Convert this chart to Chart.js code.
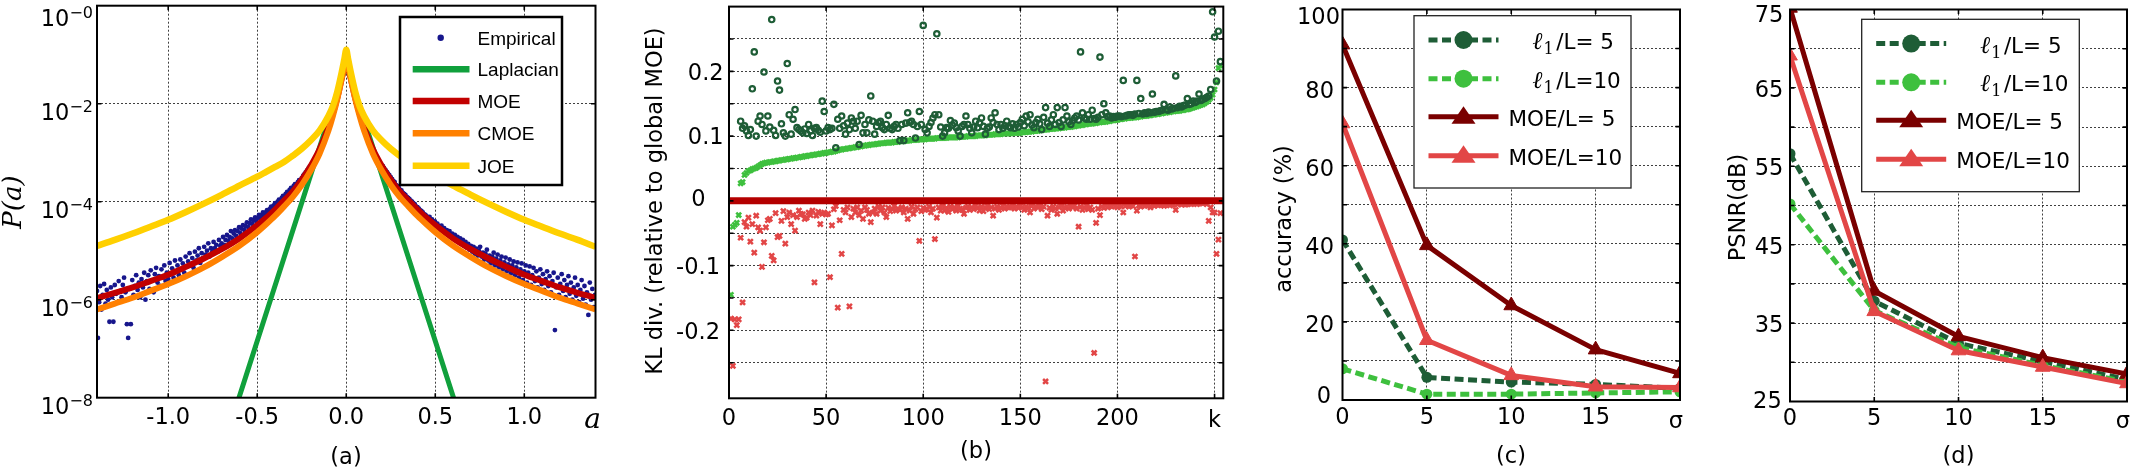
<!DOCTYPE html>
<html>
<head>
<meta charset="utf-8">
<title>MOE figure</title>
<script src="https://cdn.jsdelivr.net/npm/chart.js@4.4.1/dist/chart.umd.min.js"></script>
<style>
  html, body { margin:0; padding:0; background:#ffffff; }
  #fig { position:relative; width:2141px; height:468px; overflow:hidden; background:#ffffff; }
  #fig canvas { position:absolute; left:0; top:0; }
</style>
</head>
<body>
<div id="fig">
  <canvas id="chartA" width="2141" height="468"></canvas>
  <canvas id="chartB" width="2141" height="468"></canvas>
  <canvas id="chartC" width="2141" height="468"></canvas>
  <canvas id="chartD" width="2141" height="468"></canvas>
</div>
<script>
// ======================= DATA =======================
// ---- Panel (a): densities, values are log10 P(a) ----
const aCurveX = [-1.4,-1.3,-1.2,-1.1,-1.0,-0.9,-0.8,-0.7,-0.6,-0.5,-0.45,-0.4,-0.35,-0.3,-0.25,-0.2,-0.15,-0.1,-0.075,-0.05,-0.025,-0.01,
                 0,
                 0.01,0.025,0.05,0.075,0.1,0.15,0.2,0.25,0.3,0.35,0.4,0.45,0.5,0.6,0.7,0.8,0.9,1.0,1.1,1.2,1.3,1.4];
const aMoeLog  = [-5.97,-5.86,-5.75,-5.62,-5.49,-5.33,-5.16,-4.97,-4.75,-4.48,-4.33,-4.16,-3.98,-3.79,-3.55,-3.27,-2.93,-2.48,-2.2,-1.88,-1.48,-1.25,
                  -1.1,
                  -1.25,-1.48,-1.88,-2.2,-2.48,-2.93,-3.27,-3.55,-3.79,-3.98,-4.16,-4.33,-4.48,-4.75,-4.97,-5.16,-5.33,-5.49,-5.62,-5.75,-5.86,-5.96];
const aCmoeLog = [-6.2,-6.08,-5.96,-5.82,-5.68,-5.52,-5.34,-5.13,-4.9,-4.62,-4.46,-4.29,-4.1,-3.9,-3.66,-3.37,-3.02,-2.55,-2.25,-1.9,-1.48,-1.22,
                  -1.05,
                  -1.22,-1.48,-1.9,-2.25,-2.55,-3.02,-3.37,-3.66,-3.9,-4.1,-4.29,-4.46,-4.62,-4.9,-5.13,-5.34,-5.52,-5.68,-5.82,-5.96,-6.08,-6.2];
const aJoeLog  = [-4.9,-4.78,-4.65,-4.51,-4.37,-4.21,-4.04,-3.86,-3.67,-3.49,-3.39,-3.29,-3.19,-3.06,-2.92,-2.75,-2.55,-2.25,-2.05,-1.75,-1.35,-1.08,
                  -0.9,
                  -1.08,-1.35,-1.75,-2.05,-2.25,-2.55,-2.75,-2.92,-3.06,-3.19,-3.29,-3.39,-3.49,-3.67,-3.86,-4.04,-4.21,-4.37,-4.51,-4.65,-4.78,-4.92];
const aLapX   = [-0.7, 0, 0.7];
const aLapLog = [-9.1, -1.2, -9.1];
const aEmpX = [
-1.400,-1.395,-1.388,-1.382,-1.375,-1.368,-1.360,-1.352,-1.345,-1.338,
-1.330,-1.322,-1.315,-1.308,-1.300,-1.292,-1.285,-1.278,-1.270,-1.262,
-1.255,-1.248,-1.240,-1.232,-1.225,-1.218,-1.210,-1.202,-1.195,-1.188,
-1.180,-1.172,-1.165,-1.158,-1.150,-1.142,-1.135,-1.128,-1.120,-1.112,
-1.105,-1.098,-1.090,-1.082,-1.075,-1.068,-1.060,-1.052,-1.045,-1.038,
-1.030,-1.022,-1.015,-1.008,-1.000,-0.992,-0.985,-0.978,-0.970,-0.962,
-0.955,-0.948,-0.940,-0.932,-0.925,-0.918,-0.910,-0.902,-0.895,-0.888,
-0.880,-0.872,-0.865,-0.858,-0.850,-0.842,-0.835,-0.828,-0.820,-0.812,
-0.805,-0.798,-0.790,-0.782,-0.775,-0.768,-0.760,-0.752,-0.745,-0.738,
-0.730,-0.722,-0.715,-0.708,-0.700,-0.692,-0.685,-0.678,-0.670,-0.662,
-0.655,-0.648,-0.640,-0.632,-0.625,-0.618,-0.610,-0.602,-0.595,-0.588,
-0.580,-0.572,-0.565,-0.558,-0.550,-0.542,-0.535,-0.528,-0.520,-0.512,
-0.505,-0.498,-0.490,-0.482,-0.475,-0.468,-0.460,-0.452,-0.445,-0.438,
-0.430,-0.422,-0.415,-0.408,-0.400,-0.392,-0.385,-0.378,-0.370,-0.362,
-0.355,-0.348,-0.340,-0.332,-0.325,-0.318,-0.310,-0.302,-0.295,-0.288,
-0.280,-0.272,-0.265,-0.258,-0.250,-0.242,-0.235,-0.228,-0.220,-0.212,
-0.205,
0.205,0.212,0.220,0.228,0.235,0.242,0.250,0.258,0.265,0.272,
0.280,0.288,0.295,0.302,0.310,0.318,0.325,0.332,0.340,0.348,
0.355,0.362,0.370,0.378,0.385,0.392,0.400,0.408,0.415,0.422,
0.430,0.438,0.445,0.452,0.460,0.468,0.475,0.482,0.490,0.498,
0.505,0.512,0.520,0.528,0.535,0.542,0.550,0.558,0.565,0.572,
0.580,0.588,0.595,0.602,0.610,0.618,0.625,0.632,0.640,0.648,
0.655,0.662,0.670,0.678,0.685,0.692,0.700,0.708,0.715,0.722,
0.730,0.738,0.745,0.752,0.760,0.768,0.775,0.782,0.790,0.798,
0.805,0.812,0.820,0.828,0.835,0.842,0.850,0.858,0.865,0.872,
0.880,0.888,0.895,0.902,0.910,0.918,0.925,0.932,0.940,0.948,
0.955,0.962,0.970,0.978,0.985,0.992,1.000,1.008,1.015,1.022,
1.030,1.038,1.045,1.052,1.060,1.068,1.075,1.082,1.090,1.098,
1.105,1.112,1.120,1.128,1.135,1.142,1.150,1.158,1.165,1.172,
1.180,1.188,1.195,1.202,1.210,1.218,1.225,1.232,1.240,1.248,
1.255,1.262,1.270,1.278,1.285,1.292,1.300,1.308,1.315,1.322,
1.330,1.338,1.345,1.352,1.360,1.368,1.375,1.382,1.390,1.398];
const aEmpLog = [
-5.82,-6.78,-6.05,-5.72,-6.2,-5.9,-5.68,-6.08,-5.8,-6.0,
-6.45,-5.75,-5.95,-6.45,-5.7,-5.88,-6.05,-5.62,-5.82,-5.95,
-5.7,-5.55,-5.85,-6.5,-6.78,-5.78,-6.5,-5.6,-5.9,-5.72,
-5.5,-5.8,-5.65,-5.95,-5.58,-5.75,-5.45,-6.0,-5.62,-5.5,
-5.78,-5.4,-5.6,-5.85,-5.48,-5.35,-5.65,-5.52,-5.72,-5.38,
-5.55,-5.3,-5.62,-5.45,-5.58,-5.25,-5.48,-5.36,-5.55,-5.2,
-5.42,-5.3,-5.5,-5.18,-5.38,-5.26,-5.45,-5.12,-5.32,-5.22,
-5.05,-5.3,-5.15,-5.35,-5.02,-5.2,-5.1,-4.95,-5.25,-5.05,
-5.15,-4.92,-5.08,-5.0,-4.85,-5.12,-4.95,-5.02,-4.82,-4.95,
-4.88,-5.02,-4.78,-4.9,-4.85,-4.72,-4.88,-4.78,-4.68,-4.8,
-4.72,-4.6,-4.75,-4.65,-4.58,-4.7,-4.6,-4.52,-4.64,-4.55,
-4.48,-4.58,-4.5,-4.42,-4.52,-4.44,-4.36,-4.45,-4.38,-4.32,
-4.4,-4.33,-4.27,-4.35,-4.28,-4.22,-4.28,-4.22,-4.17,-4.22,
-4.15,-4.1,-4.14,-4.08,-4.03,-4.06,-4.0,-3.96,-3.98,-3.92,
-3.88,-3.9,-3.84,-3.8,-3.82,-3.76,-3.72,-3.74,-3.68,-3.64,
-3.65,-3.6,-3.56,-3.57,-3.52,-3.47,-3.44,-3.4,-3.36,-3.32,
-3.28,
-3.27,-3.31,-3.35,-3.39,-3.43,-3.46,-3.5,-3.54,-3.58,-3.6,
-3.66,-3.68,-3.71,-3.76,-3.77,-3.82,-3.84,-3.86,-3.9,-3.92,
-3.95,-3.98,-4.0,-4.04,-4.05,-4.1,-4.11,-4.14,-4.18,-4.19,
-4.22,-4.26,-4.27,-4.3,-4.33,-4.31,-4.38,-4.36,-4.42,-4.4,
-4.47,-4.45,-4.5,-4.53,-4.49,-4.58,-4.54,-4.62,-4.58,-4.66,
-4.6,-4.7,-4.65,-4.74,-4.68,-4.78,-4.72,-4.82,-4.75,-4.86,
-4.78,-4.9,-4.82,-4.94,-4.86,-4.98,-4.9,-5.02,-4.92,-5.06,
-4.96,-5.1,-5.0,-4.92,-5.12,-5.04,-5.18,-5.06,-4.98,-5.2,
-5.1,-5.26,-5.12,-5.04,-5.3,-5.16,-5.08,-5.34,-5.2,-5.12,
-5.38,-5.24,-5.14,-5.42,-5.28,-5.18,-5.46,-5.3,-5.22,-5.5,
-5.34,-5.24,-5.55,-5.38,-5.26,-5.6,-5.42,-5.3,-5.65,-5.45,
-5.32,-5.7,-5.5,-5.35,-5.62,-5.42,-5.75,-5.55,-5.38,-5.68,
-5.48,-5.8,-5.58,-5.42,-5.72,-5.52,-5.85,-5.62,-5.45,-6.62,
-5.75,-5.55,-5.9,-5.68,-5.48,-5.82,-5.6,-5.95,-5.7,-5.52,
-5.88,-5.65,-6.0,-5.75,-5.55,-5.92,-5.7,-6.05,-5.8,-5.6,
-5.98,-5.72,-6.1,-5.85,-6.31,-5.65,-6.0,-5.78,-6.15,-5.9];
const aXTicks = [-1.0, -0.5, 0.0, 0.5, 1.0];
const aXTickLabels = ['-1.0', '-0.5', '0.0', '0.5', '1.0'];
const aYTicks = [1, 1e-2, 1e-4, 1e-6, 1e-8];
const aYTickExp = ['\u22120', '\u22122', '\u22124', '\u22126', '\u22128'];
const aLegendNames = ['Empirical', 'Laplacian', 'MOE', 'CMOE', 'JOE'];

// ---- Panel (b): KL divergence relative to global MOE, k = 1..253 ----
const bLightGreen = [
-0.145,-0.040,-0.037,-0.034,-0.022,0.027,0.029,0.040,0.043,0.046,
0.047,0.049,0.050,0.051,0.053,0.055,0.057,0.058,0.059,0.059,
0.060,0.060,0.061,0.061,0.062,0.062,0.063,0.063,0.064,0.064,
0.065,0.065,0.066,0.066,0.067,0.067,0.068,0.068,0.069,0.069,
0.070,0.070,0.071,0.071,0.072,0.072,0.073,0.073,0.074,0.074,
0.075,0.075,0.076,0.076,0.077,0.078,0.079,0.079,0.080,0.080,
0.081,0.081,0.082,0.082,0.083,0.083,0.084,0.084,0.085,0.085,
0.086,0.086,0.087,0.087,0.087,0.088,0.088,0.089,0.089,0.089,
0.090,0.090,0.090,0.090,0.091,0.091,0.091,0.092,0.092,0.092,
0.093,0.093,0.093,0.094,0.094,0.094,0.094,0.095,0.095,0.095,
0.095,0.096,0.096,0.096,0.096,0.096,0.097,0.097,0.097,0.097,
0.097,0.097,0.098,0.098,0.098,0.098,0.098,0.098,0.099,0.099,
0.099,0.099,0.100,0.100,0.100,0.100,0.100,0.101,0.101,0.101,
0.101,0.101,0.102,0.102,0.102,0.102,0.103,0.103,0.103,0.103,
0.104,0.104,0.104,0.104,0.104,0.105,0.105,0.105,0.105,0.105,
0.106,0.106,0.106,0.107,0.107,0.107,0.108,0.108,0.108,0.109,
0.109,0.110,0.110,0.110,0.111,0.111,0.111,0.112,0.112,0.112,
0.113,0.113,0.113,0.114,0.114,0.114,0.115,0.115,0.116,0.116,
0.117,0.117,0.118,0.118,0.119,0.119,0.119,0.120,0.120,0.121,
0.121,0.122,0.122,0.122,0.123,0.123,0.124,0.124,0.125,0.125,
0.126,0.126,0.127,0.127,0.128,0.128,0.128,0.129,0.129,0.129,
0.130,0.130,0.131,0.131,0.131,0.132,0.132,0.133,0.133,0.134,
0.134,0.135,0.135,0.136,0.136,0.137,0.137,0.138,0.138,0.139,
0.139,0.139,0.140,0.140,0.141,0.141,0.142,0.143,0.144,0.145,
0.146,0.147,0.148,0.149,0.151,0.153,0.156,0.159,0.164,0.172,
0.183,0.205,0.209];
const bDarkGreen = [
null,null,null,null,null,0.123,0.112,0.116,0.108,0.101,
0.110,0.173,0.230,0.100,0.123,0.131,0.118,0.199,0.108,0.131,
0.114,0.280,0.109,0.101,0.185,0.171,0.119,0.105,0.100,0.212,
0.133,0.103,0.126,0.141,0.113,0.110,0.108,0.105,0.111,0.104,
0.118,0.108,0.101,0.112,0.113,0.109,0.106,0.154,0.138,0.108,
0.113,0.110,0.112,0.149,0.082,0.126,0.112,0.131,0.116,0.103,
0.120,0.110,0.128,0.123,0.112,0.123,0.087,0.132,0.105,0.118,
0.105,0.125,0.162,0.123,0.103,0.115,0.121,0.123,0.113,0.110,
0.118,0.132,0.112,0.110,0.115,0.118,0.112,0.093,0.118,0.093,
0.120,0.136,0.121,0.123,0.118,0.097,0.115,0.138,0.118,0.271,
0.110,0.105,0.115,0.121,0.128,0.133,0.258,0.133,0.114,0.100,
0.105,0.113,0.112,0.124,0.117,0.120,0.113,0.108,0.100,0.115,
0.118,0.131,0.118,0.112,0.105,0.114,0.123,0.113,0.120,0.128,
0.115,0.103,0.112,0.114,0.128,0.121,0.136,0.118,0.110,0.118,
0.112,0.116,0.123,0.115,0.113,0.119,0.112,0.118,0.114,0.121,
0.126,0.116,0.131,0.122,0.133,0.117,0.113,0.121,0.126,0.119,
0.110,0.129,0.144,0.120,0.115,0.125,0.133,0.118,0.144,0.121,
0.115,0.125,0.144,0.131,0.122,0.118,0.124,0.128,0.131,0.125,
0.230,0.136,0.128,0.126,0.133,0.126,0.140,0.127,0.126,0.129,
0.222,0.133,0.150,0.136,0.130,0.131,0.128,0.130,0.129,0.131,
0.131,0.130,0.186,0.131,0.132,0.133,0.133,0.132,0.134,0.186,
0.135,0.158,0.134,0.136,0.135,0.137,0.136,0.165,0.137,0.138,
0.138,0.139,0.140,0.149,0.141,0.140,0.145,0.142,0.143,0.193,
0.144,0.146,0.145,0.147,0.148,0.158,0.149,0.150,0.154,0.152,
0.154,0.165,0.155,0.157,0.158,0.160,0.162,0.172,0.292,0.253,
0.185,0.262,0.215];
const bLightRed = [
-0.182,-0.255,-0.183,-0.192,-0.183,-0.057,-0.157,-0.033,-0.040,-0.026,
-0.063,-0.036,-0.080,-0.023,-0.041,-0.046,-0.102,-0.064,-0.041,-0.030,
-0.028,-0.085,-0.092,-0.019,-0.056,-0.054,-0.031,-0.016,-0.066,-0.025,
-0.018,-0.036,-0.022,-0.046,-0.025,-0.015,-0.020,-0.021,-0.028,-0.026,
-0.018,-0.022,-0.015,-0.126,-0.023,-0.017,-0.036,-0.020,-0.018,-0.021,
-0.020,-0.118,-0.038,-0.013,-0.008,-0.165,-0.030,-0.082,-0.014,-0.018,
-0.010,-0.163,-0.025,-0.012,-0.018,-0.010,-0.022,-0.015,-0.028,-0.010,
-0.014,-0.020,-0.033,-0.018,-0.012,-0.020,-0.009,-0.015,-0.010,-0.018,
-0.025,-0.011,-0.016,-0.013,-0.008,-0.015,-0.012,-0.014,-0.010,-0.018,
-0.012,-0.028,-0.015,-0.009,-0.020,-0.013,-0.010,-0.062,-0.016,-0.011,
-0.014,-0.013,-0.009,-0.018,-0.012,-0.059,-0.026,-0.010,-0.015,-0.008,
-0.015,-0.011,-0.017,-0.009,-0.013,-0.010,-0.015,-0.008,-0.012,-0.014,
-0.020,-0.011,-0.009,-0.014,-0.010,-0.013,-0.008,-0.011,-0.015,-0.009,
-0.016,-0.011,-0.008,-0.013,-0.010,-0.023,-0.012,-0.009,-0.014,-0.011,
-0.008,-0.012,-0.009,-0.010,-0.010,-0.007,-0.012,-0.009,-0.011,-0.008,
-0.010,-0.014,-0.009,-0.011,-0.018,-0.008,-0.012,-0.009,-0.010,-0.007,
-0.013,-0.009,-0.279,-0.023,-0.011,-0.014,-0.009,-0.012,-0.020,-0.010,
-0.008,-0.015,-0.011,-0.009,-0.012,-0.008,-0.010,-0.007,-0.012,-0.040,
-0.009,-0.014,-0.011,-0.008,-0.013,-0.010,-0.014,-0.235,-0.034,-0.012,
-0.022,-0.009,-0.011,-0.007,-0.010,-0.008,-0.009,-0.006,-0.008,-0.010,
-0.007,-0.009,-0.018,-0.008,-0.006,-0.009,-0.007,-0.008,-0.086,-0.015,
-0.007,-0.009,-0.006,-0.008,-0.007,-0.005,-0.010,-0.006,-0.008,-0.005,
-0.007,-0.006,-0.005,-0.008,-0.006,-0.005,-0.007,-0.005,-0.006,-0.014,
-0.005,-0.004,-0.006,-0.004,-0.006,-0.005,-0.004,-0.005,-0.004,-0.003,
-0.005,-0.004,-0.003,-0.004,-0.003,-0.005,-0.031,-0.010,-0.018,-0.018,
-0.082,-0.060,-0.019];
const bGlobalK  = [0, 254.5];
const bGlobalKL = [0, 0];
const bXTicks = [0, 50, 100, 150, 200, 250];
const bXTickLabels = ['0', '50', '100', '150', '200', 'k'];
const bYTicks = [0.2, 0.1, 0, -0.1, -0.2];
const bYTickLabels = ['0.2', '0.1', '0', '-0.1', '-0.2'];

// ---- Panels (c) and (d): vs noise sigma ----
const sigma = [0, 5, 10, 15, 20];
const cAccL1L5   = [41.0, 5.8, 4.6, 4.0, 3.0];
const cAccL1L10  = [8.0, 1.5, 1.5, 1.8, 2.1];
const cAccMoeL5  = [91.0, 39.6, 24.2, 12.9, 6.8];
const cAccMoeL10 = [70.8, 15.3, 6.3, 3.4, 3.2];
const dPsnrL1L5   = [56.6, 37.8, 32.4, 30.1, 27.8];
const dPsnrL1L10  = [50.2, 36.6, 31.9, 29.6, 27.5];
const dPsnrMoeL5  = [75.2, 39.1, 33.3, 30.6, 28.5];
const dPsnrMoeL10 = [69.1, 36.5, 31.5, 29.4, 27.3];
const sigmaTickLabels = ['0', '5', '10', '15', '\u03c3'];
const cYTicks = [0, 20, 40, 60, 80, 100];
const dYTicks = [25, 35, 45, 55, 65, 75];
const methodNames = [['\u2113', '1', '/L= 5'], ['\u2113', '1', '/L=10'], ['MOE/L= 5'], ['MOE/L=10']];

// ======================= STYLE =======================
const SANS  = '"DejaVu Sans", "Liberation Sans", sans-serif';
const SERIF = '"DejaVu Serif", "Liberation Serif", serif';
const HELV  = '"Liberation Sans", Arial, sans-serif';
const TICK  = '22.5px ' + SANS;
const GRID  = 'rgba(0,0,0,0.75)';
const A_EMP = '#17168c', A_LAP = '#10a03c', A_MOE = '#c20000', A_CMOE = '#ff8000', A_JOE = '#ffd000';
const C_DG = '#1e5d36', C_LG = '#3ec03e', C_DR = '#7a0000', C_LR = '#e24646', B_DR = '#b40000';

function text(ctx, s, x, y, font, align, base, rot, color) {
  ctx.save();
  ctx.font = font; ctx.fillStyle = color || '#000';
  ctx.textAlign = align || 'center'; ctx.textBaseline = base || 'alphabetic';
  ctx.translate(x, y); if (rot) ctx.rotate(rot);
  ctx.fillText(s, 0, 0);
  ctx.restore();
}
function frame(chart, xMarks, yMarks) {
  const {ctx, chartArea: a, scales: {x, y}} = chart;
  ctx.save();
  ctx.strokeStyle = '#000'; ctx.lineWidth = 1.6;
  ctx.beginPath();
  xMarks.forEach(v => { const p = x.getPixelForValue(v);
    ctx.moveTo(p, a.bottom); ctx.lineTo(p, a.bottom - 4.5); ctx.moveTo(p, a.top); ctx.lineTo(p, a.top + 4.5); });
  yMarks.forEach(v => { const p = y.getPixelForValue(v);
    ctx.moveTo(a.left, p); ctx.lineTo(a.left + 4.5, p); ctx.moveTo(a.right, p); ctx.lineTo(a.right - 4.5, p); });
  ctx.stroke();
  ctx.lineWidth = 2;
  ctx.strokeRect(a.left, a.top, a.right - a.left, a.bottom - a.top);
  ctx.restore();
}
function axis(type, min, max, gridVals) {
  return {
    type, min, max, bounds: 'data',
    ticks: { display: false },
    grid: { color: GRID, lineWidth: 1, drawTicks: false },
    border: { display: false, dash: [2, 2] },
    afterBuildTicks: s => { s.ticks = gridVals.map(v => ({ value: v })); },
    afterFit: s => { if (s.isHorizontal()) s.height = 0; else s.width = 0; }
  };
}
function baseOptions(padding, scales) {
  return {
    responsive: false, animation: false, events: [], devicePixelRatio: 1,
    layout: { padding },
    plugins: { legend: { display: false }, tooltip: { enabled: false } },
    scales
  };
}
const pts = (xs, ys, f) => xs.map((x, i) => ({ x, y: f ? f(ys[i]) : ys[i] })).filter(p => p.y !== null);
const pow10 = v => Math.pow(10, v);

// ======================= PANEL (a) =======================
const decorA = { id: 'decorA', afterDraw(chart) {
  const {ctx, scales: {x, y}} = chart;
  frame(chart, aXTicks, [1e-2, 1e-4, 1e-6]);
  ctx.save();
  ctx.fillStyle = '#fff'; ctx.fillRect(400, 17, 162, 168);
  ctx.lineWidth = 2.5; ctx.strokeStyle = '#000'; ctx.strokeRect(400, 17, 162, 168);
  const rows = [37.7, 69.3, 101, 133.3, 165.7];
  ctx.fillStyle = A_EMP; ctx.beginPath(); ctx.arc(440.7, rows[0], 3.2, 0, 2 * Math.PI); ctx.fill();
  [A_LAP, A_MOE, A_CMOE, A_JOE].forEach((c, i) => {
    ctx.strokeStyle = c; ctx.lineWidth = 6.5; ctx.beginPath();
    ctx.moveTo(412.7, rows[i + 1]); ctx.lineTo(469.5, rows[i + 1]); ctx.stroke(); });
  ctx.restore();
  aLegendNames.forEach((s, i) => text(ctx, s, 477.5, rows[i] + 7, '19px ' + HELV, 'left'));
  aYTicks.forEach((v, i) => {
    const py = y.getPixelForValue(v); const dy = i === 0 ? 4 : 0;
    ctx.save(); ctx.font = '16px ' + SANS; const sw = ctx.measureText(aYTickExp[i]).width; ctx.restore();
    text(ctx, aYTickExp[i], 93, py + 8 + dy, '16px ' + SANS, 'right');
    text(ctx, '10', 93 - sw, py + 16.5 + dy, TICK, 'right');
  });
  aXTicks.forEach((v, i) => text(ctx, aXTickLabels[i], x.getPixelForValue(v), 424, TICK));
  text(ctx, 'a', 592.5, 428, 'italic 28px ' + SERIF);
  text(ctx, 'P(a)', 14, 202, 'italic 26px ' + SERIF, 'center', 'middle', -Math.PI / 2);
  text(ctx, '(a)', 346, 458, TICK, 'center', 'middle');
}};
new Chart(document.getElementById('chartA'), {
  type: 'scatter',
  data: { datasets: [
    { data: pts(aCurveX, aJoeLog, pow10), showLine: true, borderColor: A_JOE, borderWidth: 6.5, pointRadius: 0, cubicInterpolationMode: 'monotone', clip: 0, order: 1 },
    { data: pts(aCurveX, aCmoeLog, pow10), showLine: true, borderColor: A_CMOE, borderWidth: 6, pointRadius: 0, cubicInterpolationMode: 'monotone', clip: 0, order: 2 },
    { data: pts(aCurveX, aMoeLog, pow10), showLine: true, borderColor: A_MOE, borderWidth: 6, pointRadius: 0, cubicInterpolationMode: 'monotone', clip: 0, order: 3 },
    { data: pts(aLapX, aLapLog, pow10), showLine: true, borderColor: A_LAP, borderWidth: 5, pointRadius: 0, clip: 0, order: 4 },
    { data: pts(aEmpX, aEmpLog, pow10), showLine: false, pointRadius: 2.4, pointBorderWidth: 0, pointBackgroundColor: A_EMP, clip: 0, order: 5 }
  ]},
  options: baseOptions({ left: 97, right: 2141 - 595.5, top: 5.7, bottom: 468 - 397.7 }, {
    x: axis('linear', -1.4, 1.4, aXTicks),
    y: axis('logarithmic', 1e-8, 1, [1e-6, 1e-4, 1e-2])
  }),
  plugins: [decorA]
});

// ======================= PANEL (b) =======================
const kIndex = bLightGreen.map((_, i) => i + 1);
const bGrid = [-0.25, -0.2, -0.15, -0.1, -0.05, 0, 0.05, 0.1, 0.15, 0.2, 0.25];
const decorB = { id: 'decorB', afterDraw(chart) {
  const {ctx, scales: {x, y}} = chart;
  frame(chart, [50, 100, 150, 200, 250], bGrid);
  const xr = [723.6, 723.6, 698.5, 720, 720], al = ['right', 'right', 'center', 'right', 'right'];
  bYTicks.forEach((v, i) => { const py = y.getPixelForValue(v);
    text(ctx, bYTickLabels[i], xr[i], py + (v === 0 ? 5 : 8.2), TICK, al[i]); });
  bXTicks.forEach((v, i) => text(ctx, bXTickLabels[i], x.getPixelForValue(v), bXTickLabels[i] === 'k' ? 426.5 : 424.5, TICK));
  text(ctx, 'KL div. (relative to global MOE)', 656, 201, TICK, 'center', 'middle', -Math.PI / 2);
  text(ctx, '(b)', 976, 452, TICK, 'center', 'middle');
}};
new Chart(document.getElementById('chartB'), {
  type: 'scatter',
  data: { datasets: [
    { data: pts(bGlobalK, bGlobalKL), showLine: true, borderColor: B_DR, borderWidth: 7, pointRadius: 0, clip: 0, order: 1 },
    { data: pts(kIndex, bDarkGreen), pointStyle: 'circle', pointRadius: 2.7, pointBorderWidth: 2.2, pointBorderColor: C_DG, pointBackgroundColor: 'rgba(0,0,0,0)', clip: 0, order: 2 },
    { data: pts(kIndex, bLightGreen), pointStyle: 'crossRot', pointRadius: 3.4, pointBorderWidth: 2.6, pointBorderColor: C_LG, pointBackgroundColor: C_LG, clip: 0, order: 3 },
    { data: pts(kIndex, bLightRed), pointStyle: 'crossRot', pointRadius: 3.5, pointBorderWidth: 2.5, pointBorderColor: C_LR, pointBackgroundColor: C_LR, clip: 0, order: 4 }
  ]},
  options: baseOptions({ left: 729, right: 2141 - 1223.3, top: 5, bottom: 468 - 398.3 }, {
    x: axis('linear', 0, 254.5, [50, 100, 150, 200, 250]),
    y: axis('linear', -0.305, 0.3, bGrid)
  }),
  plugins: [decorB]
});

// ======================= PANELS (c) and (d) =======================
const methodStyle = [
  { color: C_DG, dash: true,  marker: 'circle' },
  { color: C_LG, dash: true,  marker: 'circle' },
  { color: C_DR, dash: false, marker: 'triangle' },
  { color: C_LR, dash: false, marker: 'triangle' }
];
function methodLegend(ctx, bx, by, w, h) {
  ctx.save();
  ctx.fillStyle = '#fff'; ctx.fillRect(bx, by, w, h);
  ctx.strokeStyle = '#222'; ctx.lineWidth = 1.3; ctx.strokeRect(bx, by, w, h);
  const rows = [24.3, 63, 101, 140];
  methodStyle.forEach((s, i) => {
    const ry = by + rows[i], cx = bx + 49.5;
    ctx.save();
    ctx.strokeStyle = s.color; ctx.lineWidth = 5; ctx.lineCap = 'butt';
    ctx.setLineDash(s.dash ? [9, 4.5] : []);
    ctx.beginPath(); ctx.moveTo(bx + 14.5, ry); ctx.lineTo(bx + 84.5, ry); ctx.stroke();
    ctx.setLineDash([]); ctx.fillStyle = s.color; ctx.beginPath();
    if (s.marker === 'circle') ctx.arc(cx, ry, 9, 0, 2 * Math.PI);
    else { ctx.moveTo(cx, ry - 10.5); ctx.lineTo(cx + 12, ry + 7); ctx.lineTo(cx - 12, ry + 7); ctx.closePath(); }
    ctx.fill();
    ctx.restore();
    const nm = methodNames[i];
    if (nm.length === 3) {
      let tx = bx + 118.5;
      ctx.save(); ctx.font = 'italic 24px ' + SERIF; const w1 = ctx.measureText(nm[0]).width;
      ctx.font = '16px ' + SERIF; const w2 = ctx.measureText(nm[1]).width; ctx.restore();
      text(ctx, nm[0], tx, ry + 9, 'italic 24px ' + SERIF, 'left');
      tx += w1 + 1;
      text(ctx, nm[1], tx, ry + 14, '16px ' + SERIF, 'left');
      tx += w2 + 2.5;
      text(ctx, nm[2], tx, ry + 9, '21.5px ' + SANS, 'left');
    } else {
      text(ctx, nm[0], bx + 94.5, ry + 9, '21.5px ' + SANS, 'left');
    }
  });
  ctx.restore();
}
function methodDatasets(v1, v2, v3, v4) {
  const common = { showLine: true, borderWidth: 5, clip: 0 };
  return [
    Object.assign({ data: pts(sigma, v1), borderColor: C_DG, borderDash: [9, 4.5], pointStyle: 'circle', pointRadius: 5.5, pointBorderWidth: 0, pointBackgroundColor: C_DG, order: 4 }, common),
    Object.assign({ data: pts(sigma, v2), borderColor: C_LG, borderDash: [9, 4.5], pointStyle: 'circle', pointRadius: 5.5, pointBorderWidth: 0, pointBackgroundColor: C_LG, order: 3 }, common),
    Object.assign({ data: pts(sigma, v3), borderColor: C_DR, borderJoinStyle: 'round', pointStyle: 'triangle', pointRadius: 8.5, pointBorderWidth: 1, pointBorderColor: C_DR, pointBackgroundColor: C_DR, order: 2 }, common),
    Object.assign({ data: pts(sigma, v4), borderColor: C_LR, borderJoinStyle: 'round', pointStyle: 'triangle', pointRadius: 8.5, pointBorderWidth: 1, pointBorderColor: C_LR, pointBackgroundColor: C_LR, order: 1 }, common)
  ];
}
const decorC = { id: 'decorC', afterDraw(chart) {
  const {ctx, scales: {x, y}} = chart;
  frame(chart, [5, 10, 15], [10, 20, 30, 40, 50, 60, 70, 80, 90]);
  methodLegend(ctx, 1414, 15.7, 217, 172.3);
  cYTicks.forEach(v => { const py = y.getPixelForValue(v);
    let cy = py + 1.7, xr = 1334;
    if (v === 100) { cy = 15.5; xr = 1340; }
    if (v === 0) { cy = 395; xr = 1331; }
    text(ctx, String(v), xr, cy + 8.2, TICK, 'right'); });
  sigma.forEach((v, i) => {
    if (i === 4) text(ctx, sigmaTickLabels[i], x.getPixelForValue(v) - 4, 428, TICK);
    else text(ctx, sigmaTickLabels[i], x.getPixelForValue(v), 423.5, TICK); });
  text(ctx, 'accuracy (%)', 1285.5, 219, TICK, 'center', 'middle', -Math.PI / 2);
  text(ctx, '(c)', 1511, 457, TICK, 'center', 'middle');
}};
new Chart(document.getElementById('chartC'), {
  type: 'scatter',
  data: { datasets: methodDatasets(cAccL1L5, cAccL1L10, cAccMoeL5, cAccMoeL10) },
  options: baseOptions({ left: 1342.5, right: 2141 - 1680, top: 1, bottom: 468 - 400 }, {
    x: axis('linear', 0, 20, [5, 10, 15]),
    y: axis('linear', 0, 100, [10, 20, 30, 40, 50, 60, 70, 80, 90])
  }),
  plugins: [decorC]
});

const decorD = { id: 'decorD', afterDraw(chart) {
  const {ctx, scales: {x, y}} = chart;
  frame(chart, [5, 10, 15], [30, 35, 40, 45, 50, 55, 60, 65, 70]);
  methodLegend(ctx, 1861.7, 19.3, 217.6, 172.4);
  dYTicks.forEach(v => { const py = y.getPixelForValue(v);
    let cy = py + 0.7, xr = 1783.3;
    if (v === 75) cy = 14;
    if (v === 25) { cy = 400; xr = 1781.7; }
    text(ctx, String(v), xr, cy + 8.2, TICK, 'right'); });
  sigma.forEach((v, i) => {
    if (i === 4) text(ctx, sigmaTickLabels[i], x.getPixelForValue(v) - 4, 428, TICK);
    else text(ctx, sigmaTickLabels[i], x.getPixelForValue(v), 425, TICK); });
  text(ctx, 'PSNR(dB)', 1739, 207.5, TICK, 'center', 'middle', -Math.PI / 2);
  text(ctx, '(d)', 1958.5, 457, TICK, 'center', 'middle');
}};
new Chart(document.getElementById('chartD'), {
  type: 'scatter',
  data: { datasets: methodDatasets(dPsnrL1L5, dPsnrL1L10, dPsnrMoeL5, dPsnrMoeL10) },
  options: baseOptions({ left: 1790, right: 2141 - 2127, top: 1.5, bottom: 468 - 401.5 }, {
    x: axis('linear', 0, 20, [5, 10, 15]),
    y: axis('linear', 25, 75, [30, 35, 40, 45, 50, 55, 60, 65, 70])
  }),
  plugins: [decorD]
});
</script>
</body>
</html>
